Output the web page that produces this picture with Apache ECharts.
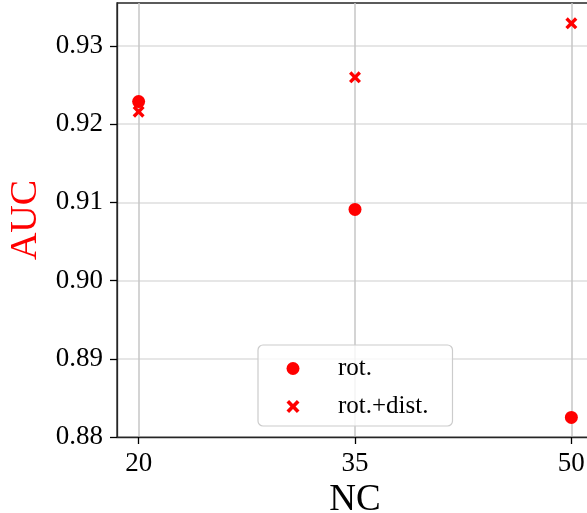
<!DOCTYPE html>
<html>
<head>
<meta charset="utf-8">
<script src="https://cdn.jsdelivr.net/npm/echarts@6/dist/echarts.min.js"></script>
<style>
  html, body { margin: 0; padding: 0; background: #ffffff; }
  #chart { width: 587px; height: 513px; }
</style>
</head>
<body>
<div id="chart"></div>
<script>
// Number of components on the x axis
const ncValues = [20, 35, 50];
// AUC with rotation augmentation only
const aucRot = [0.9229, 0.9091, 0.8825];
// AUC with rotation + distortion augmentation
const aucRotDist = [0.9216, 0.9260, 0.9329];
// Tick positions
const xTicks = [20, 35, 50];
const yTicks = [0.88, 0.89, 0.90, 0.91, 0.92, 0.93];

const FONT = 'Liberation Serif';
const RED = '#ff0000';
// An "x" marker outline
const CROSS = 'path://M0,2 L2,0 L5,3 L8,0 L10,2 L7,5 L10,8 L8,10 L5,7 L2,10 L0,8 L3,5 Z';

const chart = echarts.init(document.getElementById('chart'), null, { renderer: 'canvas' });

chart.setOption({
  animation: false,
  backgroundColor: '#ffffff',
  grid: {
    left: 117, top: 3, bottom: 76, right: -6,
    containLabel: false,
    outerBoundsMode: 'none',
    show: true, borderColor: '#262626', borderWidth: 1.3,
    backgroundColor: 'transparent'
  },
  xAxis: {
    type: 'value',
    min: 18.5, max: 51.5,
    name: 'NC',
    nameLocation: 'middle',
    nameGap: 40,
    nameTextStyle: { fontFamily: FONT, fontSize: 37, color: '#000' },
    axisLine: { show: true, lineStyle: { color: '#262626', width: 1.3 } },
    axisTick: { show: true, length: 7, customValues: xTicks, lineStyle: { color: '#000', width: 1.3 } },
    axisLabel: {
      customValues: xTicks, margin: 13,
      fontFamily: FONT, fontSize: 27, color: '#000'
    },
    splitLine: { show: true, lineStyle: { color: '#c6c6c6', width: 1.5 } }
  },
  yAxis: {
    type: 'value',
    min: 0.88, max: 0.9355,
    name: 'AUC',
    nameLocation: 'middle',
    nameGap: 67,
    nameRotate: 90,
    nameTextStyle: { fontFamily: FONT, fontSize: 38, color: RED },
    axisLine: { show: true, lineStyle: { color: '#262626', width: 1.3 } },
    axisTick: { show: true, length: 7, customValues: yTicks, lineStyle: { color: '#000', width: 1.3 } },
    axisLabel: {
      customValues: yTicks, margin: 14,
      fontFamily: FONT, fontSize: 27, color: '#000',
      formatter: v => v.toFixed(2)
    },
    splitLine: { show: true, lineStyle: { color: '#dedede', width: 1.5 } }
  },
  legend: {
    orient: 'vertical',
    left: 258, top: 345,
    padding: [11, 24, 7, 28.5],
    itemWidth: 30, itemHeight: 13, itemGap: 13,
    backgroundColor: 'rgba(255,255,255,0.8)',
    borderColor: '#cccccc', borderWidth: 1.2, borderRadius: 5,
    textStyle: { fontFamily: FONT, fontSize: 25, color: '#000', padding: [0, 0, 0, 25] },
    data: ['rot.', 'rot.+dist.']
  },
  series: [
    {
      name: 'rot.',
      type: 'scatter',
      symbol: 'circle',
      symbolSize: 13,
      itemStyle: { color: RED, opacity: 1 },
      data: ncValues.map((n, i) => [n, aucRot[i]])
    },
    {
      name: 'rot.+dist.',
      type: 'scatter',
      symbol: CROSS,
      symbolSize: 12,
      itemStyle: { color: RED, opacity: 1 },
      data: ncValues.map((n, i) => [n, aucRotDist[i]])
    }
  ]
});
</script>
</body>
</html>
